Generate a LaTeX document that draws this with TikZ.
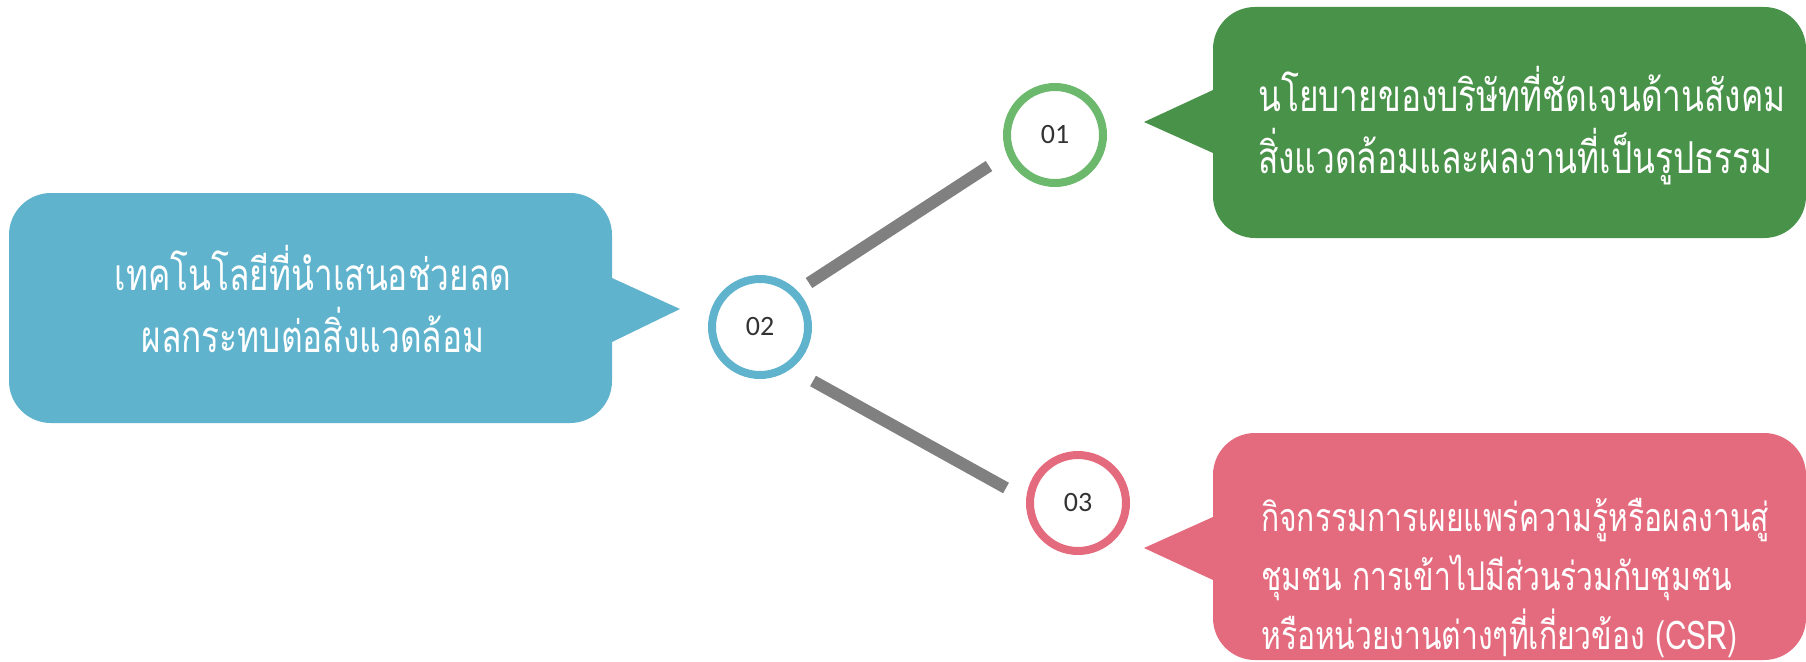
\documentclass[tikz,border=0pt]{standalone}
\usepackage{fontspec}
\newfontfamily\thaifont[Script=Thai,FakeStretch=0.76]{Loma}
\newfontfamily\numfont{Carlito}
\definecolor{cblue}{RGB}{96,179,204}
\definecolor{cgreen}{RGB}{73,146,73}
\definecolor{cgreenl}{RGB}{108,184,108}
\definecolor{cpink}{RGB}{228,107,125}
\definecolor{cgray}{RGB}{128,128,128}
\definecolor{cnum}{RGB}{51,51,51}
\begin{document}
\begin{tikzpicture}[x=1pt,y=-1pt,
  ring/.style={circle,draw,line width=8pt,minimum size=96pt,inner sep=0pt,fill=white,font=\numfont\fontsize{28}{30}\selectfont,text=cnum},
  link/.style={draw=cgray,line width=12pt},
  box/.style={rounded corners=42pt},
  btext/.style={text=white,font=\thaifont\fontsize{44}{62}\selectfont,inner sep=0pt},
  ptext/.style={text=white,font=\thaifont\fontsize{39.5}{59}\selectfont,inner sep=0pt}]
\useasboundingbox (0,0) rectangle (1806,661);
% callouts
\fill[cblue,box] (9,193) rectangle (612,423);
\fill[cblue] (600,278) -- (612,278) -- (680,309) -- (612,342) -- (600,342) -- cycle;
\fill[cgreen,box] (1213,7) rectangle (1806,238);
\fill[cgreen] (1225,90) -- (1213,90) -- (1144,122) -- (1213,153) -- (1225,153) -- cycle;
\fill[cpink,box] (1213,433) rectangle (1806,660);
\fill[cpink] (1225,517) -- (1213,517) -- (1144,548) -- (1213,580) -- (1225,580) -- cycle;
% texts
\node[btext,align=center] (tb) at (313,299) {เทคโนโลยีที่นำเสนอช่วยลด\\ผลกระทบต่อสิ่งแวดล้อม};
\node[btext,align=left,anchor=west] (tg) at (1258,126) {นโยบายของบริษัทที่ชัดเจนด้านสังคม\\สิ่งแวดล้อมและผลงานที่เป็นรูปธรรม};
\node[ptext,align=left,anchor=west] (tp) at (1261,578) {กิจกรรมการเผยแพร่ความรู้หรือผลงานสู่\\ชุมชน การเข้าไปมีส่วนร่วมกับชุมชน\\หรือหน่วยงานต่างๆที่เกี่ยวข้อง (CSR)};
% circles
\node[ring,draw=cblue] (c2) at (760,327) {02};
\node[ring,draw=cgreenl] (c1) at (1055,135) {01};
\node[ring,draw=cpink] (c3) at (1078,503) {03};
% links
\coordinate (a1) at (809,283);
\coordinate (b1) at (989,166);
\coordinate (a2) at (813,381);
\coordinate (b2) at (1006,488);
\draw[link] (a1) -- (b1);
\draw[link] (a2) -- (b2);
\end{tikzpicture}
\end{document}
